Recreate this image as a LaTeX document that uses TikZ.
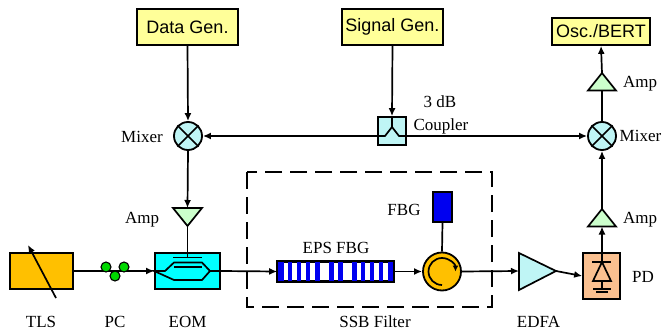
\documentclass[tikz,border=0pt]{standalone}
\usepackage{fontspec}
\setmainfont{Liberation Serif}
\setsansfont{Liberation Sans}
\usetikzlibrary{arrows.meta}
\definecolor{cyellow}{HTML}{FFFF99}
\definecolor{cgold}{HTML}{FFC000}
\definecolor{ccyan}{HTML}{00FFFF}
\definecolor{clight}{HTML}{BFF5F5}
\definecolor{cgreen}{HTML}{CCFFCC}
\definecolor{cpd}{HTML}{FAC090}
\definecolor{cblue}{HTML}{0000F0}
\tikzset{
  wire/.style={line width=1.7pt,draw=black},
  arr/.style={wire,-{Latex[length=8pt,width=7pt]}},
  genbox/.style={draw=black,line width=1.7pt,fill=cyellow,minimum width=101pt,minimum height=36pt,inner sep=0pt,font=\sffamily\fontsize{18}{18}\selectfont},
  lab/.style={font=\fontsize{17}{17}\selectfont,inner sep=0pt,text=black},
  block/.style={draw=black,line width=1.7pt,inner sep=0pt},
  mixer/.style={circle,draw=black,line width=1.8pt,fill=clight,minimum size=28pt,inner sep=0pt}
}
\begin{document}
\begin{tikzpicture}[x=1pt,y=-1pt]
\useasboundingbox (0,0) rectangle (662,332);
% generators
\node[genbox] (data) at (187.5,27) {Data Gen.};
\node[genbox] (sig) at (392.5,27) {Signal Gen.};
\node[genbox,minimum width=98pt,minimum height=27pt] (osc) at (601,31.5) {Osc./BERT};
% mixers
\node[mixer] (mixL) at (188,136) {};
\node[mixer] (mixR) at (602,136) {};
\draw[wire] (mixL.north west)--(mixL.south east) (mixL.north east)--(mixL.south west);
\draw[wire] (mixR.north west)--(mixR.south east) (mixR.north east)--(mixR.south west);
% coupler
\node[block,fill=clight,minimum width=28pt,minimum height=28pt] (coup) at (392,131) {};
% amps
\draw[block,fill=cgreen] (173,208)--(202,208)--(187.5,226)--cycle;
\draw[block,fill=cgreen] (588,226.5)--(616,226.5)--(602,209)--cycle;
\draw[block,fill=cgreen] (588,90.5)--(616,90.5)--(602,73)--cycle;
\coordinate (ampLt) at (187.5,208);
\coordinate (ampLb) at (187.5,226);
\coordinate (ampRlt) at (602,209);
\coordinate (ampRlb) at (602,226.5);
\coordinate (ampRut) at (602,73);
\coordinate (ampRub) at (602,90.5);
% TLS
\node[block,fill=cgold,minimum width=63pt,minimum height=36pt] (tls) at (41.5,271) {};
\coordinate (tlsA) at (56,298);
\coordinate (tlsB) at (28,245);
\draw[arr] (tlsA)--(tlsB);
% EOM
\node[block,fill=ccyan,minimum width=65pt,minimum height=36pt] (eom) at (187.5,271) {};
% main wires
\draw[arr] (tls.east)--(eom.west);
\foreach \n/\x/\y in {pa/106/267,pb/124/267,pc/115/276}
  \node[circle,draw=black,line width=1.1pt,fill=green!85!black,minimum size=10pt,inner sep=0pt] (\n) at (\x,\y) {};
% EOM inner
\draw[wire] (eom.west)--(165,271)--(174,262.5)--(202,262.5)--(210,271)--(202,280)--(174,280)--cycle;
\draw[wire] (210,271)--(eom.east);
\draw[wire] (173,257.5)--(202,257.5) (174,267)--(202,267);
% FBG grating
\node[block,fill=white,minimum width=115pt,minimum height=19pt] (eps) at (335.5,271.5) {};
\foreach \a/\b in {278/284,287.5/292,296.5/301,305.5/310,314.5/319.5,329/334,337.5/342.5,352/357,360.5/365,369.5/374,378.5/383,387.5/393}
  \fill[cblue] (\a,262) rectangle (\b,281);
\draw[block] (eps.south west) rectangle (eps.north east);
\node[lab,anchor=base] (epsl) at (336,253) {EPS FBG};
\draw[arr] (eom.east)--(eps.west);
% circulator
\node[circle,draw=black,line width=1.8pt,fill=cgold,minimum size=38pt,inner sep=0pt] (circ) at (442,271.5) {};
\draw[wire,-{Latex[length=6pt,width=6pt]}] (442,285) arc[start angle=90,end angle=360,radius=13.5];
\node[block,fill=cblue,minimum width=19pt,minimum height=30pt] (fbg) at (442.5,207) {};
\draw[wire] (fbg.south)--(circ.north);
\draw[arr] (eps.east)--(circ.west);
% dashed box
\draw[line width=1.7pt,dash pattern=on 17pt off 8pt] (247,172) rectangle (492,307);
% EDFA
\coordinate (edfaIn) at (519,271);
\coordinate (edfaOut) at (556,271);
\draw[block,fill=clight] (519,253)--(519,290)--(556,271)--cycle;
\draw[arr] (circ.east)--(edfaIn);
% PD
\node[block,fill=cpd,minimum width=37pt,minimum height=46pt] (pd) at (601.5,276) {};
\draw[arr] (edfaOut)--(pd.west);
\draw[wire] (592,262)--(611,262);
\draw[wire] (602,262)--(593,281)--(611,281)--cycle;
\draw[wire] (602,281)--(602,289);
\draw[line width=2.2pt] (593,289)--(611,289);
\draw[line width=2.2pt] (596,292)--(608,292);
% vertical
\draw[arr] (data.south)--(mixL.north);
\draw[arr] (sig.south)--(coup.north);
\draw[arr] (mixL.south)--(ampLt);
\draw[wire] (ampLb)--(187.5,257.5);
\draw[arr] (602,262)--(ampRlb);
\draw[arr] (ampRlt)--(mixR.south);
\draw[wire] (mixR.north)--(ampRub);
\draw[arr] (ampRut)--(osc.south);
% coupler
\draw[arr] (coup.west|-0,136)--(mixL.east);
\draw[arr] (coup.east|-0,136)--(mixR.west);
\draw[wire] (378,136)--(385,136)--(392,127)--(399,136)--(406,136);
\draw[wire] (coup.north)--(392,127);
% labels
\node[lab,anchor=base] (l1) at (41,327) {TLS};
\node[lab,anchor=base] (l2) at (115,327) {PC};
\node[lab,anchor=base] (l3) at (187.5,327) {EOM};
\node[lab,anchor=base] (l4) at (375,327) {SSB Filter};
\node[lab,anchor=base] (l5) at (538.5,327) {EDFA};
\node[lab,anchor=base] (l6) at (643,282) {PD};
\node[lab,anchor=base] (l7) at (142,223) {Amp};
\node[lab,anchor=base] (l8) at (142,142) {Mixer};
\node[lab,anchor=base] (l9) at (640.5,141.5) {Mixer};
\node[lab,anchor=base] (l10) at (640,87) {Amp};
\node[lab,anchor=base] (l11) at (640,223) {Amp};
\node[lab,anchor=base] (l12) at (440,107) {3 dB};
\node[lab,anchor=base] (l13) at (441,130) {Coupler};
\node[lab,anchor=base] (l14) at (404,215) {FBG};
\end{tikzpicture}
\end{document}
